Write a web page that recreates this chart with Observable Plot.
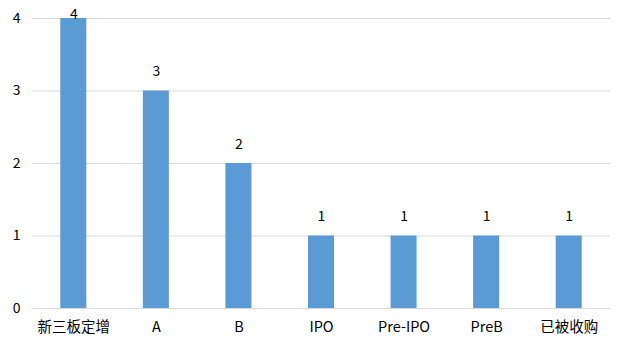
<!DOCTYPE html>
<html>
<head>
<meta charset="utf-8">
<script src="https://cdn.jsdelivr.net/npm/d3@7"></script>
<script src="https://cdn.jsdelivr.net/npm/@observablehq/plot@0.6"></script>
<style>
  html, body { margin: 0; padding: 0; background: #fff; }
  #chart svg { display: block; }
</style>
</head>
<body>
<div id="chart"></div>
<script>
const categories = ["新三板定增", "A", "B", "IPO", "Pre-IPO", "PreB", "已被收购"];
const counts = [4, 3, 2, 1, 1, 1, 1];
const yTicks = [0, 1, 2, 3, 4];

const data = categories.map((c, i) => ({ category: c, count: counts[i] }));
const font = "'Noto Sans CJK SC', 'Noto Sans', sans-serif";

const chart = Plot.plot({
  width: 630,
  height: 352,
  marginLeft: 32,
  marginRight: 20,
  marginTop: 18,
  marginBottom: 44,
  style: { fontFamily: font, fontSize: "14px", color: "#000", background: "#fff" },
  x: { domain: categories, paddingInner: 0.685, paddingOuter: 0.3425, round: false, label: null },
  y: { domain: [0, 4], ticks: yTicks, label: null },
  marks: [
    Plot.gridY(yTicks, { stroke: "#d9d9d9", strokeOpacity: 1, strokeWidth: 1 }),
    Plot.barY(data, { x: "category", y: "count", fill: "#5B9BD5" }),
    Plot.text(data, {
      x: "category",
      y: d => Math.min(d.count, 3.79),
      text: d => String(d.count),
      dy: -19,
      fill: "#000",
      fontSize: 14
    }),
    Plot.axisY(yTicks, { tickSize: 0, tickPadding: 12, fontSize: 14, label: null, tickFormat: d => String(d) }),
    Plot.axisX({ tickSize: 0, tickPadding: 13, fontSize: 14.5, label: null })
  ]
});
document.getElementById("chart").appendChild(chart);
</script>
</body>
</html>
